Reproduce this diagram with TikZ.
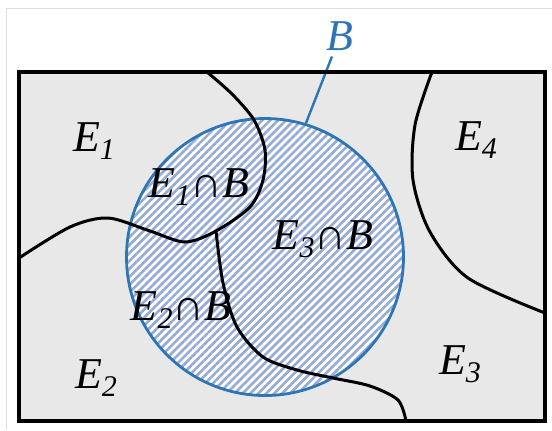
\documentclass[tikz,border=0pt]{standalone}
\usepackage{fontspec}
\setmainfont{Liberation Serif}
\usetikzlibrary{patterns.meta,calc}
\definecolor{SetBlue}{HTML}{2E75B6}
\definecolor{HatchBlue}{HTML}{95ABD6}
\definecolor{RegionGray}{HTML}{E8E8E8}
\definecolor{FrameGray}{HTML}{DDDDDD}
\newcommand{\evt}[1]{\textit{E}\raisebox{-4pt}{\fontsize{15}{15}\selectfont\itshape #1}}
\newcommand{\evtcap}[1]{\evt{#1}{\upshape ∩}\textit{B}}

\begin{document}
\begin{tikzpicture}[x=0.5pt,y=-0.5pt,
  every node/.style={font=\fontsize{22}{26}\selectfont, inner sep=0pt},
  border/.style={black,line width=1.5pt}]
  \useasboundingbox (0,0) rectangle (552,430);
  \draw[FrameGray,line width=0.5pt] (6,430) -- (6,8) -- (552,8);
  \fill[RegionGray] (19,72) rectangle (545,421);
  % the set B, hatched
  \node[circle,minimum size=138.5pt,draw=SetBlue,line width=1.4pt,
    preaction={fill=white},
    pattern={Lines[angle=45,distance=2.8pt,line width=1.3pt]},
    pattern color=HatchBlue] (bset) at (265,257) {};
  \node[text=SetBlue] (blab) at (340,36) {\textit{B}};
  \draw[SetBlue,line width=1.2pt,shorten <=11pt] (blab.center) -- (bset.73);
  % partition boundaries
  \coordinate (jn) at (216,231);
  \draw[border] plot[smooth] coordinates {(207,72) (232,94) (254,120)
    (265,150) (263,180) (250,207) (jn) (185,242) (150,231)
    (108,218) (70,227) (19,258)};
  \draw[border] plot[smooth] coordinates {(jn) (223,283) (237,327)
    (263,357) (297,370) (333,378) (370,386) (398,400) (406,421)};
  \draw[border] plot[smooth] coordinates {(432,72) (415,125) (413,180)
    (430,232) (468,278) (545,313)};
  \draw[line width=2pt] (19,72) rectangle (545,421);
  % labels
  \node (e1) at (94,141) {\evt1};
  \node (e2) at (96,378) {\evt2};
  \node (e3) at (460,364) {\evt3};
  \node (e4) at (476,140) {\evt4};
  \node (e1b) at (199,187) {\evtcap1};
  \node (e2b) at (181,310) {\evtcap2};
  \node (e3b) at (323,239) {\evtcap3};
\end{tikzpicture}
\end{document}
